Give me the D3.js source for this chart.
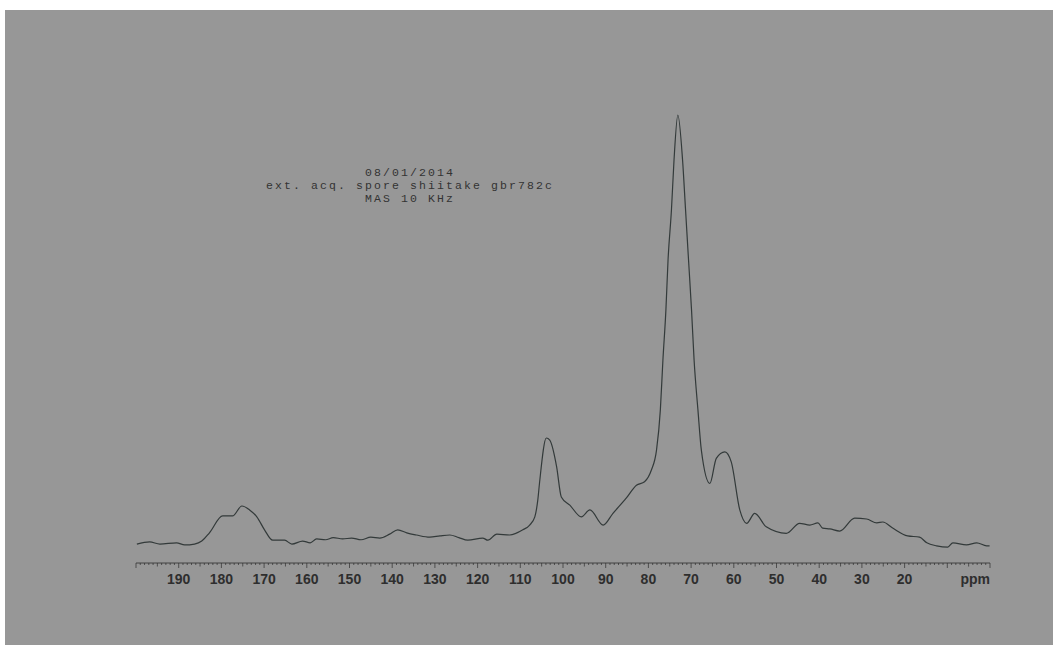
<!DOCTYPE html>
<html>
<head>
<meta charset="utf-8">
<script src="https://cdn.jsdelivr.net/npm/d3@7"></script>
<style>
  body { margin: 0; background: #ffffff; }
</style>
</head>
<body>
<div id="spectrum"></div>
<script>
// Title lines printed on the plot
const titleLines = ["08/01/2014", "ext. acq. spore shiitake gbr782c", "MAS 10 KHz"];

// Axis tick labels (ppm)
const tickLabels = [190, 180, 170, 160, 150, 140, 130, 120, 110, 100, 90, 80, 70, 60, 50, 40, 30, 20];

// Chemical shift (ppm) of each trace point
const shiftPpm = [
    199.8, 196.8, 194.4, 190.5, 188.6, 186.3, 184.6, 182.8, 179.7, 177.4,
    175.2, 173.4, 171.7, 169.9, 168.0, 165.2, 163.5, 161.0, 159.2, 157.7,
    155.6, 153.8, 151.6, 149.5, 147.3, 145.0, 142.9, 140.6, 138.7, 136.6,
    134.3, 131.2, 128.8, 126.5, 124.4, 122.3, 118.8, 117.6,
    115.5, 112.5, 109.4, 107.8, 106.6, 105.9, 105.5, 103.9, 103.1, 101.5,
    100.4, 98.4, 95.7, 93.7, 90.6, 88.3, 85.2, 82.8, 80.9, 79.3,
    78.1, 77.2, 76.6, 75.9, 75.4, 74.6, 74.0, 73.1, 72.0, 71.3,
    70.6, 69.9, 69.3, 68.4, 67.6, 65.6, 64.1, 62.1, 60.6, 58.6,
    57.0, 55.1, 52.4, 47.7, 44.6, 42.2, 40.3, 39.2, 37.5, 35.2,
    31.7, 28.9, 26.5, 25.1, 22.8, 19.3, 16.5, 14.8, 12.5, 9.9,
    8.7, 5.5, 3.1, 0.8, 0.1
];

// Relative intensity (main peak = 100)
const intensity = [
    0.9, 1.4, 0.9, 1.2, 0.7, 0.9, 1.6, 3.5, 7.4, 7.4,
    9.7, 8.8, 7.2, 4.2, 1.8, 1.8, 0.9, 1.6, 1.2, 2.1,
    1.9, 2.4, 2.1, 2.3, 1.9, 2.5, 2.3, 3.2, 4.2, 3.5,
    3.0, 2.5, 2.8, 3.0, 2.4, 1.8, 2.3, 1.8,
    3.2, 3.0, 4.2, 5.3, 7.2, 11.1, 15.0, 25.4, 24.9, 18.8,
    11.8, 9.9, 7.2, 8.8, 5.3, 8.0, 11.5, 14.5, 15.3, 18.0,
    22.6, 31.9, 43.4, 55.0, 66.5, 78.1, 89.6, 100, 89.6, 78.1,
    66.5, 55.0, 43.4, 31.9, 22.6, 14.9, 20.7, 22.2, 19.9, 8.8,
    5.7, 8.0, 4.9, 3.4, 5.7, 5.3, 5.8, 4.6, 4.4, 3.9,
    6.9, 6.7, 5.8, 6.0, 4.6, 2.8, 2.5, 1.2, 0.5, 0.2,
    1.2, 0.7, 1.2, 0.5, 0.5
];

function main() {

    const width = 1053,
        height = 650;

    const svg = d3.select("#spectrum")
        .append("svg")
        .attr("width", width)
        .attr("height", height);

    // Scanned paper background
    svg.append("rect")
        .attr("x", 5)
        .attr("y", 10)
        .attr("width", width - 5)
        .attr("height", 635)
        .attr("fill", "#979797");

    // Scales: ppm runs right to left
    const x = d3.scaleLinear()
        .domain([200, 0])
        .range([136, 990]);

    const y = d3.scaleLinear()
        .domain([0, 100])
        .range([548, 115]);

    const axisY = 563;
    const ink = "#2e2e2e";

    // Axis line
    svg.append("line")
        .attr("x1", x(200))
        .attr("x2", x(0))
        .attr("y1", axisY)
        .attr("y2", axisY)
        .attr("stroke", ink)
        .attr("stroke-width", 0.8);

    // Ticks every 1 ppm, longer every 5 and 10
    svg.append("g")
        .selectAll("line")
        .data(d3.range(0, 201))
        .join("line")
        .attr("x1", d => x(d))
        .attr("x2", d => x(d))
        .attr("y1", axisY)
        .attr("y2", d => axisY + (d % 10 === 0 ? 5 : d % 5 === 0 ? 3.5 : 2))
        .attr("stroke", ink)
        .attr("stroke-width", 0.7);

    // Tick labels
    svg.append("g")
        .selectAll("text")
        .data(tickLabels)
        .join("text")
        .attr("x", d => x(d))
        .attr("y", 584)
        .attr("text-anchor", "middle")
        .attr("font-family", "Liberation Sans, Arial, sans-serif")
        .attr("font-weight", "bold")
        .style("font-size", "14px")
        .attr("fill", ink)
        .text(d => d);

    svg.append("text")
        .attr("x", x(0))
        .attr("y", 584)
        .attr("text-anchor", "end")
        .attr("font-family", "Liberation Sans, Arial, sans-serif")
        .attr("font-weight", "bold")
        .style("font-size", "14px")
        .attr("fill", ink)
        .text("ppm");

    // Spectrum trace
    const points = shiftPpm.map((p, i) => ({ppm: p, value: intensity[i]}));

    const line = d3.line()
        .x(d => x(d.ppm))
        .y(d => y(d.value))
        .curve(d3.curveMonotoneX);

    svg.append("path")
        .datum(points)
        .attr("d", line)
        .attr("fill", "none")
        .attr("stroke", "#333a3a")
        .attr("stroke-width", 1.2)
        .attr("stroke-linejoin", "round");

    // Title block
    svg.append("g")
        .selectAll("text")
        .data(titleLines)
        .join("text")
        .attr("x", 410)
        .attr("y", (d, i) => 176 + i * 13)
        .attr("text-anchor", "middle")
        .attr("font-family", "Liberation Mono, Courier New, monospace")
        .style("font-size", "11.5px")
        .style("letter-spacing", "2.1px")
        .attr("fill", "#333333")
        .text(d => d);
}

main();
</script>
</body>
</html>
